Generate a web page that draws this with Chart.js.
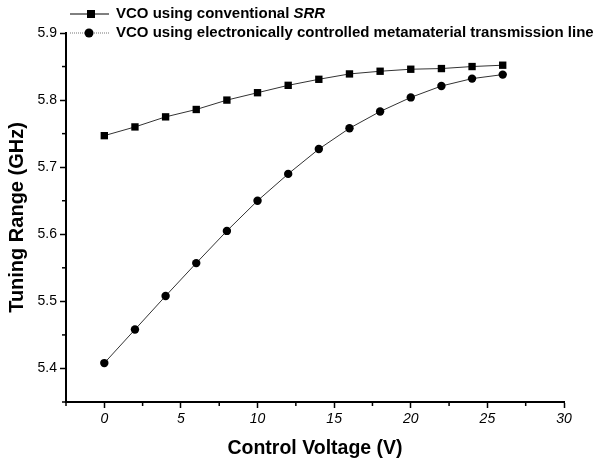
<!DOCTYPE html>
<html>
<head>
<meta charset="utf-8">
<script src="https://cdn.jsdelivr.net/npm/chart.js@4"></script>
<style>
  html, body { margin: 0; padding: 0; background: #fff; }
  #wrap { width: 598px; height: 464px; }
</style>
</head>
<body>
<div id="wrap"><canvas id="tuneChart" width="598" height="464"></canvas></div>
<script>
// control voltage (V)
const voltage = [0, 2, 4, 6, 8, 10, 12, 14, 16, 18, 20, 22, 24, 26];
// tuning range (GHz)
const srrValues = [5.747, 5.760, 5.775, 5.786, 5.800, 5.811, 5.822, 5.831, 5.839, 5.843, 5.846, 5.847, 5.850, 5.852];
const metaValues = [5.408, 5.458, 5.508, 5.557, 5.605, 5.650, 5.690, 5.727, 5.758, 5.783, 5.804, 5.821, 5.832, 5.838];
const seriesNames = ['VCO using conventional SRR', 'VCO using electronically controlled metamaterial transmission line'];
const xTicks = [0, 5, 10, 15, 20, 25, 30];
const xMinor = [-2.5, 2.5, 7.5, 12.5, 17.5, 22.5, 27.5];
const yTicks = [5.4, 5.5, 5.6, 5.7, 5.8, 5.9];
const yMinor = [5.35, 5.45, 5.55, 5.65, 5.75, 5.85];

const FONT = 'Arial, "Liberation Sans", sans-serif';

// little minor ticks, origin-style
const minorTicks = {
    id: 'minorTicks',
    afterDraw(chart) {
        const c = chart.ctx;
        const xs = chart.scales.x, ys = chart.scales.y;
        c.save();
        c.strokeStyle = '#000';
        c.lineWidth = 1.5;
        xMinor.forEach(v => {
            const px = xs.getPixelForValue(v);
            c.beginPath();
            c.moveTo(px, xs.top);
            c.lineTo(px, xs.top + 4);
            c.stroke();
        });
        yMinor.forEach(v => {
            const py = ys.getPixelForValue(v);
            c.beginPath();
            c.moveTo(ys.right, py);
            c.lineTo(ys.right - 4, py);
            c.stroke();
        });
        c.restore();
    }
};

// legend drawn in the top-left, like the original figure
const oldLegend = {
    id: 'oldLegend',
    afterDraw(chart) {
        const c = chart.ctx;
        const rows = [
            { y: 14, dash: [], color: '#000', style: 'rect' },
            { y: 33, dash: [1, 1], color: '#777', style: 'circle' }
        ];
        c.save();
        rows.forEach((r, i) => {
            c.strokeStyle = r.color;
            c.lineWidth = 1;
            c.setLineDash(r.dash);
            c.beginPath();
            c.moveTo(70, r.y);
            c.lineTo(109, r.y);
            c.stroke();
            c.setLineDash([]);
            c.fillStyle = '#000';
            if (r.style === 'rect') {
                c.fillRect(87, r.y - 4, 8, 8);
            } else {
                c.beginPath();
                c.arc(89, r.y, 4.5, 0, Math.PI * 2);
                c.fill();
            }
            c.textBaseline = 'middle';
            c.textAlign = 'left';
            c.fillStyle = '#000';
            if (i === 0) {
                const head = 'VCO using conventional ';
                c.font = 'bold 15px ' + FONT;
                c.fillText(head, 116, r.y);
                const w = c.measureText(head).width;
                c.font = 'italic bold 15px ' + FONT;
                c.fillText('SRR', 116 + w, r.y);
            } else {
                c.font = 'bold 15px ' + FONT;
                c.fillText(seriesNames[1], 116, r.y);
            }
        });
        c.restore();
    }
};

new Chart(document.getElementById('tuneChart'), {
    type: 'line',
    data: {
        datasets: [
            {
                label: seriesNames[0],
                data: voltage.map((v, i) => ({ x: v, y: srrValues[i] })),
                borderColor: '#333',
                borderWidth: 1,
                backgroundColor: '#000',
                pointStyle: 'rect',
                pointRadius: 5.2,
                pointBorderWidth: 0,
                tension: 0
            },
            {
                label: seriesNames[1],
                data: voltage.map((v, i) => ({ x: v, y: metaValues[i] })),
                borderColor: '#333',
                borderWidth: 1,
                backgroundColor: '#000',
                pointStyle: 'circle',
                pointRadius: 4.2,
                pointBorderWidth: 0,
                tension: 0
            }
        ]
    },
    options: {
        responsive: false,
        animation: false,
        layout: { padding: { left: 0, top: 33, right: 34, bottom: 0 } },
        plugins: {
            legend: { display: false },
            tooltip: { enabled: false }
        },
        scales: {
            x: {
                type: 'linear',
                min: -2.5,
                max: 30,
                afterFit: s => { s.height = 62; },
                afterBuildTicks: s => { s.ticks = xTicks.map(v => ({ value: v })); },
                border: { display: true, color: '#000', width: 2 },
                grid: { display: true, drawOnChartArea: false, color: '#000', tickLength: 6, tickWidth: 1.5 },
                ticks: {
                    color: '#000',
                    padding: 3,
                    font: { family: FONT, size: 14, style: 'italic' }
                },
                title: {
                    display: true,
                    text: 'Control Voltage (V)',
                    color: '#000',
                    padding: { top: 8 },
                    font: { family: FONT, size: 19.5, weight: 'bold' }
                }
            },
            y: {
                type: 'linear',
                min: 5.35,
                max: 5.9,
                afterFit: s => { s.width = 66; },
                afterBuildTicks: s => { s.ticks = yTicks.map(v => ({ value: v })); },
                border: { display: true, color: '#000', width: 2 },
                grid: { display: true, drawOnChartArea: false, color: '#000', tickLength: 6, tickWidth: 1.5 },
                ticks: {
                    color: '#000',
                    padding: 3,
                    font: { family: FONT, size: 14 },
                    callback: v => v.toFixed(1)
                },
                title: {
                    display: true,
                    text: 'Tuning Range (GHz)',
                    color: '#000',
                    padding: { top: 5, bottom: 0 },
                    font: { family: FONT, size: 20, weight: 'bold' }
                }
            }
        }
    },
    plugins: [minorTicks, oldLegend]
});
</script>
</body>
</html>
